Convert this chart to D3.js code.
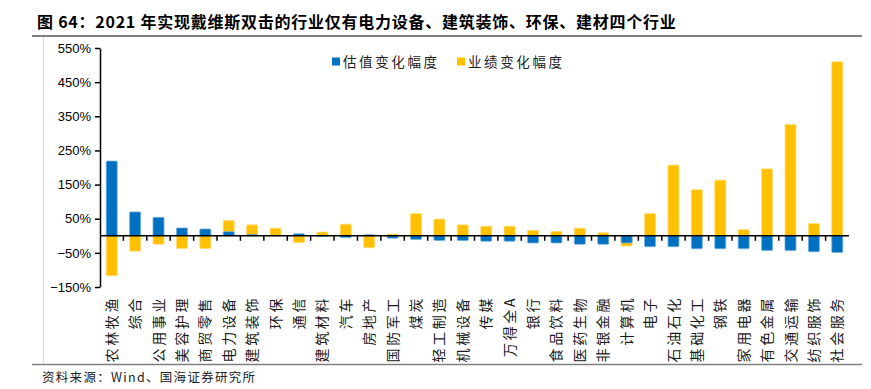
<!DOCTYPE html>
<html>
<head>
<meta charset="utf-8">
<script src="https://cdn.jsdelivr.net/npm/d3@7"></script>
<style>
  body { margin: 0; background: #fff; }
  svg { display: block; }
</style>
</head>
<body>
<svg id="vis" width="871" height="389"></svg>
<script>
const categories = ["农林牧渔", "综合", "公用事业", "美容护理", "商贸零售", "电力设备", "建筑装饰", "环保",
    "通信", "建筑材料", "汽车", "房地产", "国防军工", "煤炭", "轻工制造", "机械设备", "传媒", "万得全A",
    "银行", "食品饮料", "医药生物", "非银金融", "计算机", "电子", "石油石化", "基础化工", "钢铁",
    "家用电器", "有色金属", "交通运输", "纺织服饰", "社会服务"];

// 估值变化幅度 (%)
const valuation = [219, 70, 54, 23, 20, 12, 4, 1, 6, -1, -5, 3, -7, -11, -14, -14, -16, -16,
    -21, -21, -25, -25, -21, -32, -32, -38, -38, -38, -43, -43, -47, -49];

// 业绩变化幅度 (%)
const earnings = [-117, -45, -25, -37, -37, 45, 32, 22, -20, 11, 34, -35, 5, 65, 49, 32, 28, 28,
    16, 13, 22, 9, -30, 65, 207, 135, 163, 18, 196, 326, 36, 510];

const yTicks = [-150, -50, 50, 150, 250, 350, 450, 550];
const seriesNames = ["估值变化幅度", "业绩变化幅度"];

const BLUE = "#0070C0", YELLOW = "#FFC000";
const cjk = "'Noto Sans CJK SC', sans-serif";

const svg = d3.select("svg#vis");

// frame lines
svg.append("line").attr("x1", 32).attr("x2", 862).attr("y1", 36).attr("y2", 36)
    .attr("stroke", "#7f7f7f").attr("stroke-width", 2);
svg.append("line").attr("x1", 32).attr("x2", 862).attr("y1", 364.5).attr("y2", 364.5)
    .attr("stroke", "#7f7f7f").attr("stroke-width", 1.5);
svg.append("line").attr("x1", 43.5).attr("x2", 43.5).attr("y1", 37).attr("y2", 364)
    .attr("stroke", "#d9d9d9").attr("stroke-width", 1);

// title
svg.append("text")
    .attr("x", 37).attr("y", 28)
    .attr("font-family", cjk).attr("font-weight", "bold").attr("font-size", 16)
    .attr("letter-spacing", 0.75)
    .text("图 64：2021 年实现戴维斯双击的行业仅有电力设备、建筑装饰、环保、建材四个行业");

// source
svg.append("text")
    .attr("x", 42).attr("y", 382)
    .attr("font-family", cjk).attr("font-size", 12.5).attr("fill", "#222")
    .attr("letter-spacing", 1.3)
    .text("资料来源：Wind、国海证券研究所");

const x = d3.scaleBand().domain(categories).range([100, 849]).padding(0);
const y = d3.scaleLinear().domain([-150, 550]).range([287, 48]);
const bw = x.bandwidth() * 0.47;

function drawBars(values, color) {
    svg.append("g").selectAll("rect")
        .data(values)
        .enter()
        .append("rect")
        .attr("x", (d, i) => x(categories[i]) + (x.bandwidth() - bw) / 2)
        .attr("y", d => y(Math.max(0, d)))
        .attr("width", bw)
        .attr("height", d => Math.abs(y(d) - y(0)))
        .attr("rx", 1)
        .attr("fill", color)
        .attr("stroke", d3.interpolateRgb(color, "#fff")(0.45))
        .attr("stroke-width", 0.8);
}
drawBars(earnings, YELLOW);
drawBars(valuation, BLUE);

// y axis
const yAxis = svg.append("g")
    .attr("transform", "translate(100,0)")
    .call(d3.axisLeft(y).tickValues(yTicks).tickSize(5).tickSizeOuter(0)
        .tickFormat(d => (d < 0 ? "\u2212" : "") + Math.abs(d) + "%"));
yAxis.select(".domain").attr("stroke", "#000").attr("stroke-width", 1.5);
yAxis.selectAll(".tick line").attr("stroke", "#000").attr("stroke-width", 1.5);
yAxis.selectAll(".tick text")
    .attr("font-family", "'Liberation Sans', Arial, sans-serif")
    .attr("font-size", 13).attr("fill", "#000").attr("x", -9);

// zero line and category ticks
svg.append("line").attr("x1", 100).attr("x2", 849).attr("y1", y(0)).attr("y2", y(0))
    .attr("stroke", "#000").attr("stroke-width", 1.5);
svg.append("g").selectAll("line")
    .data(categories.slice(1))
    .enter()
    .append("line")
    .attr("x1", d => x(d)).attr("x2", d => x(d))
    .attr("y1", y(0)).attr("y2", y(0) + 5)
    .attr("stroke", "#000").attr("stroke-width", 1.5);

// category labels (rotated)
svg.append("g").selectAll("text")
    .data(categories)
    .enter()
    .append("text")
    .attr("transform", d => `translate(${x(d) + x.bandwidth() / 2},${296}) rotate(-90)`)
    .attr("text-anchor", "end")
    .attr("dy", "0.36em")
    .attr("font-family", cjk).attr("font-size", 14).attr("fill", "#1a1a1a")
    .attr("letter-spacing", 2.6)
    .text(d => d);

// legend
const legend = svg.append("g");
const legendX = [332, 457];
seriesNames.forEach((name, i) => {
    legend.append("rect").attr("x", legendX[i]).attr("y", 57.5).attr("width", 8).attr("height", 8)
        .attr("fill", i === 0 ? BLUE : YELLOW);
    legend.append("text").attr("x", legendX[i] + 11).attr("y", 66.5)
        .attr("font-family", cjk).attr("font-size", 13.5).attr("fill", "#222")
        .attr("letter-spacing", 2.6)
        .text(name);
});
</script>
</body>
</html>
